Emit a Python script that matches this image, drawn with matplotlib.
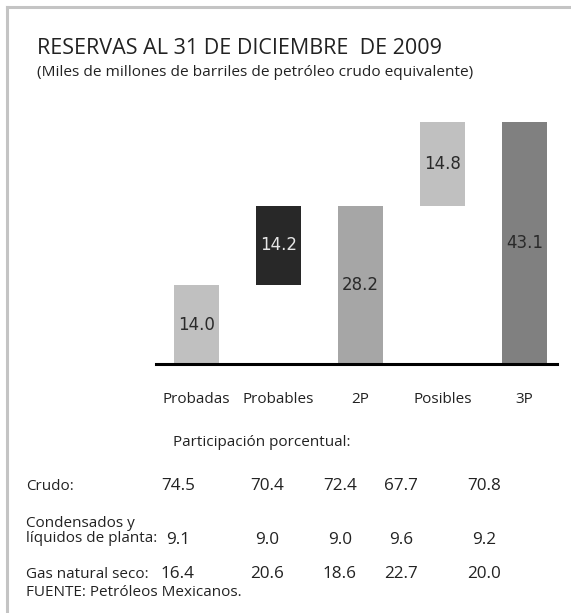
import matplotlib.pyplot as plt
from matplotlib.lines import Line2D

# data
categorias = ["Probadas", "Probables", "2P", "Posibles", "3P"]
valores = [14.0, 14.2, 28.2, 14.8, 43.1]
bases = [0, valores[0], 0, valores[2], 0]
colores = ["#c0c0c0", "#282828", "#a6a6a6", "#c0c0c0", "#808080"]
color_etiqueta = ["#2a2a2a", "#e6e6e6", "#2a2a2a", "#2a2a2a", "#2a2a2a"]

filas = ["Crudo:", "Condensados y\nlíquidos de planta:", "Gas natural seco:"]
crudo = ["74.5", "70.4", "72.4", "67.7", "70.8"]
condensados = ["9.1", "9.0", "9.0", "9.6", "9.2"]
gas = ["16.4", "20.6", "18.6", "22.7", "20.0"]

W, H = 571, 613
plt.rcParams["font.family"] = ["Open Sans", "DejaVu Sans"]
fig = plt.figure(figsize=(W / 100, H / 100), dpi=100)


def fx(px):
    return px / W


def fy(py):
    return 1 - py / H


# frame (top and left gray lines)
fig.add_artist(Line2D([fx(7), fx(571)], [fy(7), fy(7)], color="#c4c4c4", lw=2.2))
fig.add_artist(Line2D([fx(7), fx(7)], [fy(7), fy(613)], color="#c4c4c4", lw=2.2))

fig.text(fx(37), fy(48), "RESERVAS AL 31 DE DICIEMBRE  DE 2009", fontsize=15.5,
         color="#222222", va="center", ha="left")
fig.text(fx(37), fy(73), "(Miles de millones de barriles de petróleo crudo equivalente)",
         fontsize=11.1, color="#222222", va="center", ha="left")

# bars
ax = fig.add_axes([fx(156), 249 / H, 401 / W, 254 / H])
x = list(range(len(categorias)))
ax.bar(x, valores, bottom=bases, width=0.55, color=colores)
for i, v in enumerate(valores):
    ax.text(i, bases[i] + v / 2, f"{v:.1f}", ha="center", va="center",
            fontsize=12, color=color_etiqueta[i], family="DejaVu Sans")
ax.set_xlim(-0.494, 4.396)
ax.set_ylim(0, 45.2)
for s in ["top", "left", "right"]:
    ax.spines[s].set_visible(False)
ax.spines["bottom"].set_linewidth(2.2)
ax.set_yticks([])
ax.set_xticks(x)
ax.set_xticklabels(categorias, fontsize=11, color="#222222")
ax.tick_params(axis="x", length=0, pad=20)

# table
fig.text(fx(173), fy(442), "Participación porcentual:", fontsize=11,
         color="#222222", va="center", ha="left")
col_x = [178, 267, 340, 401, 484]
fila_y = [486, 540, 574]
for etiqueta, yy in zip(filas, [486, 531, 574]):
    fig.text(fx(26), fy(yy), etiqueta, fontsize=11, color="#222222",
             va="center", ha="left", linespacing=0.95)
for serie, yy in zip([crudo, condensados, gas], fila_y):
    for cx, val in zip(col_x, serie):
        fig.text(fx(cx), fy(yy), val, fontsize=12.3, color="#222222",
                 va="center", ha="center")
fig.text(fx(26), fy(593), "FUENTE: Petróleos Mexicanos.", fontsize=11,
         color="#222222", va="center", ha="left")

fig.savefig("out.png", dpi=100)
